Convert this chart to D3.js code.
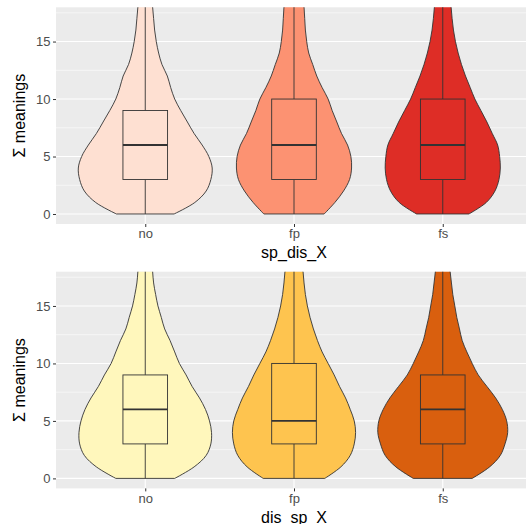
<!DOCTYPE html>
<html><head><meta charset="utf-8">
<script src="https://cdn.jsdelivr.net/npm/d3@7/dist/d3.min.js"></script>
<style>body{margin:0;background:#fff;} svg{display:block;}</style>
</head><body>
<svg id="chart" width="526" height="524"></svg>
<script>
// ---- data ----
const categories = ["no", "fp", "fs"];
const yTicks = [0, 5, 10, 15];
const yMinor = [2.5, 7.5, 12.5, 17.5];
const densityGrid = [0,1,2,3,4,5,6,7,8,9,10,11,12,13,14,15,16,17,18,19];

// panel 1: sp_dis_X  (relative violin half-widths)
const topNoDensity = [0.43,0.74,0.91,0.98,1.0,0.95,0.85,0.73,0.63,0.53,0.44,0.38,0.33,0.25,0.2,0.165,0.14,0.125,0.11,0.10];
const topFpDensity = [0.45,0.61,0.74,0.83,0.86,0.85,0.8,0.71,0.64,0.57,0.51,0.42,0.34,0.28,0.22,0.19,0.17,0.16,0.15,0.14];
const topFsDensity = [0.39,0.65,0.78,0.84,0.86,0.85,0.82,0.74,0.66,0.57,0.48,0.41,0.34,0.28,0.23,0.19,0.16,0.14,0.125,0.115];
// panel 2: dis_sp_X
const botNoDensity = [0.44,0.73,0.91,0.98,0.99,0.96,0.9,0.81,0.7,0.61,0.51,0.44,0.37,0.29,0.24,0.19,0.155,0.125,0.11,0.10];
const botFpDensity = [0.46,0.7,0.84,0.9,0.92,0.9,0.84,0.77,0.68,0.6,0.51,0.42,0.35,0.29,0.24,0.2,0.17,0.15,0.135,0.125];
const botFsDensity = [0.44,0.7,0.86,0.93,0.97,0.955,0.89,0.79,0.66,0.53,0.44,0.36,0.29,0.25,0.21,0.18,0.15,0.13,0.11,0.10];

// box stats: [lowerWhisker, q1, median, q3, upperWhisker]
const topBoxes = [[0,3,6,9,19],[0,3,6,10,20],[0,3,6,10,20]];
const botBoxes = [[0,3,6,9,19],[0,3,5,10,20],[0,3,6,9,19]];

const topColors = ["#FEE0D2", "#FC9272", "#DE2D26"];
const botColors = ["#FFF7BC", "#FEC44F", "#D95F0E"];

const panels = [
  {title: "sp_dis_X", top: 7.3, dens: [topNoDensity, topFpDensity, topFsDensity], boxes: topBoxes, colors: topColors},
  {title: "dis_sp_X", top: 271.7, dens: [botNoDensity, botFpDensity, botFsDensity], boxes: botBoxes, colors: botColors}
];

// ---- layout ----
const svg = d3.select("#chart");
const left = 56, width = 476, height = 216.7;
const outline = "#333333";

const x = d3.scaleBand().domain(categories).range([left, left + width]).paddingOuter(0.1).paddingInner(0);
// ggplot discrete expand 0.6 -> band spacing
const step = width / (categories.length - 1 + 1.2);
const xc = d3.scalePoint().domain(categories).range([left + 0.6 * step, left + width - 0.6 * step]);
const halfW = d3.scaleLinear().domain([0, 1]).range([0, 0.45 * step]);
const boxHalf = 0.15 * step;

panels.forEach((p, pi) => {
  const y = d3.scaleLinear().domain([-0.87, 17.98]).range([p.top + height, p.top]);
  const g = svg.append("g");
  const clipId = "clip" + pi;
  svg.append("clipPath").attr("id", clipId).append("rect")
    .attr("x", left).attr("y", p.top).attr("width", width).attr("height", height);

  g.append("rect").attr("x", left).attr("y", p.top).attr("width", width).attr("height", height)
    .attr("fill", "#EBEBEB");
  // minor grid
  g.selectAll(".minor").data(yMinor).enter().append("line")
    .attr("x1", left).attr("x2", left + width)
    .attr("y1", d => y(d)).attr("y2", d => y(d))
    .attr("stroke", "#fff").attr("stroke-width", 0.55).attr("clip-path", `url(#${clipId})`);
  g.selectAll(".major").data(yTicks).enter().append("line")
    .attr("x1", left).attr("x2", left + width)
    .attr("y1", d => y(d)).attr("y2", d => y(d))
    .attr("stroke", "#fff").attr("stroke-width", 1.1);
  g.selectAll(".vmajor").data(categories).enter().append("line")
    .attr("x1", d => xc(d)).attr("x2", d => xc(d))
    .attr("y1", p.top).attr("y2", p.top + height)
    .attr("stroke", "#fff").attr("stroke-width", 1.1);

  const plot = g.append("g").attr("clip-path", `url(#${clipId})`);
  categories.forEach((c, ci) => {
    const cx = xc(c);
    const pts = densityGrid.map((v, i) => ({v, w: p.dens[ci][i]}));
    const area = d3.area()
      .y(d => y(d.v))
      .x0(d => cx - halfW(d.w))
      .x1(d => cx + halfW(d.w))
      .curve(d3.curveCatmullRom.alpha(0.5));
    plot.append("path").attr("d", area(pts))
      .attr("fill", p.colors[ci]).attr("stroke", outline).attr("stroke-width", 0.9);

    const b = p.boxes[ci];
    plot.append("line").attr("x1", cx).attr("x2", cx).attr("y1", y(b[0])).attr("y2", y(b[1]))
      .attr("stroke", outline).attr("stroke-width", 0.9);
    plot.append("line").attr("x1", cx).attr("x2", cx).attr("y1", y(b[3])).attr("y2", y(b[4]))
      .attr("stroke", outline).attr("stroke-width", 0.9);
    plot.append("rect").attr("x", cx - boxHalf).attr("width", 2 * boxHalf)
      .attr("y", y(b[3])).attr("height", y(b[1]) - y(b[3]))
      .attr("fill", p.colors[ci]).attr("stroke", outline).attr("stroke-width", 0.9);
    plot.append("line").attr("x1", cx - boxHalf).attr("x2", cx + boxHalf)
      .attr("y1", y(b[2])).attr("y2", y(b[2]))
      .attr("stroke", outline).attr("stroke-width", 1.9);
  });

  // y axis
  const ya = g.append("g").attr("transform", `translate(${left},0)`)
    .call(d3.axisLeft(y).tickValues(yTicks).tickSize(3).tickPadding(2.5).tickFormat(d3.format("d")));
  ya.select(".domain").remove();
  ya.selectAll(".tick line").attr("stroke", outline).attr("stroke-width", 1);
  ya.selectAll(".tick text").attr("fill", "#4D4D4D").style("font-family", "Liberation Sans, Arial, sans-serif").style("font-size", "13px");

  // x axis
  const xa = g.append("g").attr("transform", `translate(0,${p.top + height})`)
    .call(d3.axisBottom(xc).tickSize(3).tickPadding(2));
  xa.select(".domain").remove();
  xa.selectAll(".tick line").attr("stroke", outline).attr("stroke-width", 1);
  xa.selectAll(".tick text").attr("fill", "#4D4D4D").style("font-family", "Liberation Sans, Arial, sans-serif").style("font-size", "13px");

  // titles
  g.append("text").attr("x", left + width / 2).attr("y", p.top + height + 34.4)
    .attr("text-anchor", "middle").style("font-family", "Liberation Sans, Arial, sans-serif")
    .style("font-size", "16px").attr("fill", "#000").text(p.title);
  g.append("text").attr("transform", `translate(25,${p.top + height / 2}) rotate(-90)`)
    .attr("text-anchor", "middle").style("font-family", "Liberation Sans, Arial, sans-serif")
    .style("font-size", "16px").attr("fill", "#000").text("Σ meanings");
});
</script>
</body></html>
